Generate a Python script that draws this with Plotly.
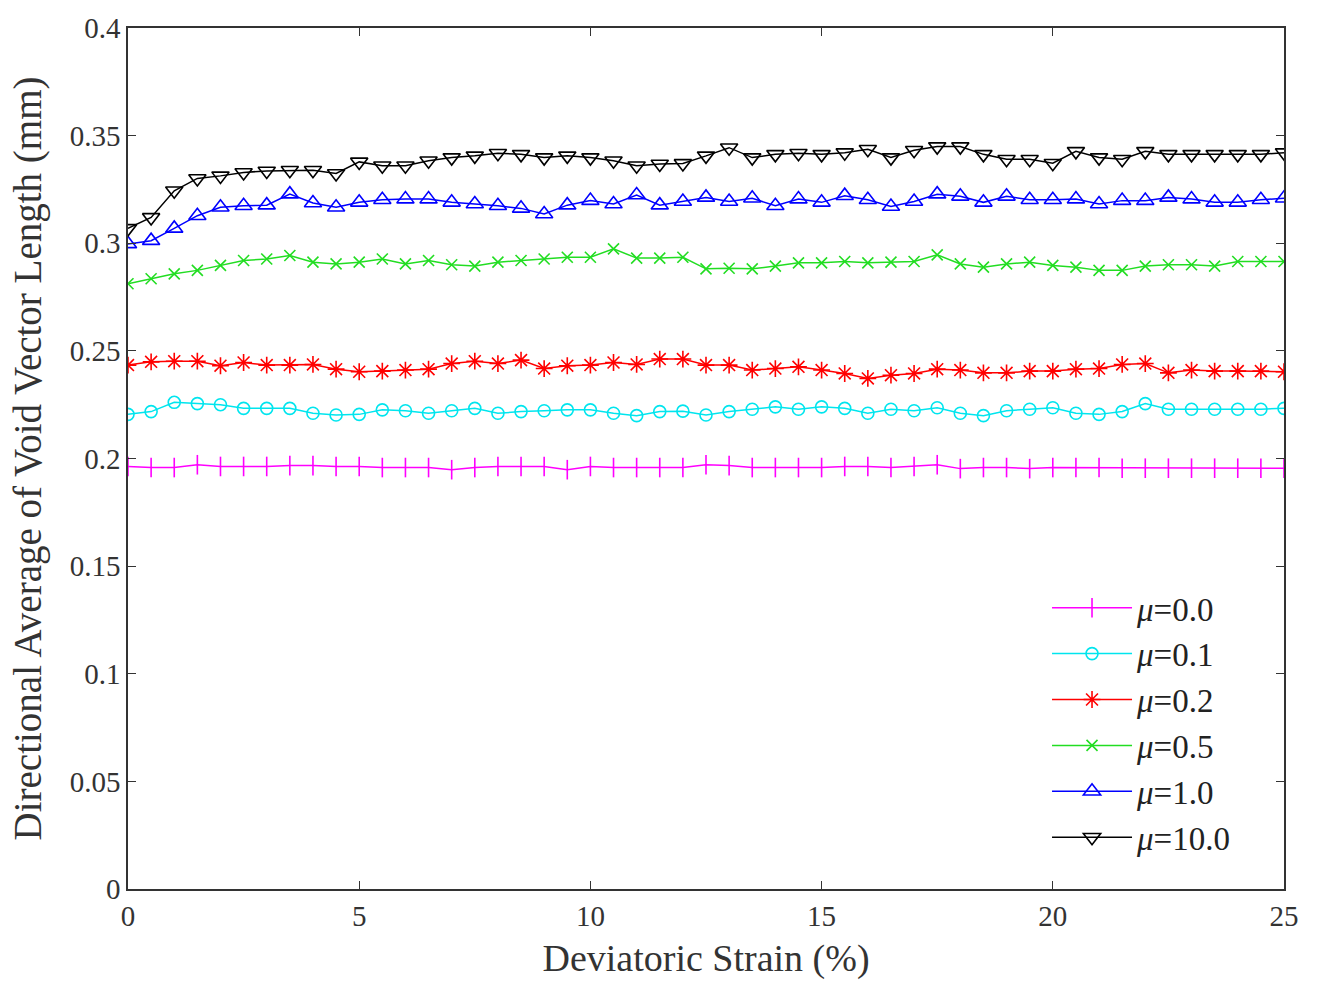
import plotly.graph_objects as go

# Deviatoric strain (%) sampled every 0.5 %
strain = [i * 0.5 for i in range(51)]

mu_00 = [0.1963, 0.1958, 0.1958, 0.1971, 0.1963, 0.1963, 0.1963, 0.1967, 0.1967, 0.1963,
         0.1963, 0.1958, 0.1958, 0.1958, 0.1948, 0.1958, 0.1963, 0.1963, 0.1963, 0.1948,
         0.1963, 0.1958, 0.1958, 0.1958, 0.1958, 0.1971, 0.1967, 0.1958, 0.1958, 0.1958,
         0.1958, 0.1963, 0.1963, 0.1958, 0.1963, 0.1971, 0.1953, 0.1958, 0.1958, 0.1953,
         0.1958, 0.1958, 0.1958, 0.1955, 0.1955, 0.1955, 0.1955, 0.1955, 0.1955, 0.1955,
         0.1955]

mu_01 = [0.2205, 0.2218, 0.2261, 0.2255, 0.2250, 0.2233, 0.2233, 0.2233, 0.2210, 0.2202,
         0.2205, 0.2226, 0.2222, 0.2210, 0.2222, 0.2233, 0.2210, 0.2218, 0.2222, 0.2226,
         0.2226, 0.2210, 0.2199, 0.2218, 0.2220, 0.2202, 0.2218, 0.2229, 0.2240, 0.2229,
         0.2240, 0.2233, 0.2210, 0.2229, 0.2222, 0.2236, 0.2210, 0.2199, 0.2222, 0.2229,
         0.2236, 0.2210, 0.2205, 0.2218, 0.2255, 0.2229, 0.2229, 0.2229, 0.2229, 0.2229,
         0.2233]

mu_02 = [0.2434, 0.2449, 0.2452, 0.2452, 0.2431, 0.2446, 0.2434, 0.2434, 0.2437, 0.2415,
         0.2403, 0.2406, 0.2411, 0.2415, 0.2441, 0.2452, 0.2441, 0.2457, 0.2418, 0.2431,
         0.2434, 0.2446, 0.2437, 0.2462, 0.2462, 0.2434, 0.2434, 0.2411, 0.2418, 0.2426,
         0.2411, 0.2395, 0.2372, 0.2387, 0.2395, 0.2415, 0.2411, 0.2398, 0.2398, 0.2406,
         0.2406, 0.2415, 0.2418, 0.2437, 0.2441, 0.2398, 0.2411, 0.2406, 0.2406, 0.2406,
         0.2403]

mu_05 = [0.2812, 0.2835, 0.2858, 0.2874, 0.2897, 0.2920, 0.2927, 0.2943, 0.2912, 0.2904,
         0.2912, 0.2927, 0.2904, 0.2920, 0.2900, 0.2894, 0.2912, 0.2920, 0.2927, 0.2935,
         0.2935, 0.2974, 0.2931, 0.2931, 0.2935, 0.2881, 0.2884, 0.2881, 0.2894, 0.2909,
         0.2909, 0.2915, 0.2909, 0.2912, 0.2915, 0.2946, 0.2904, 0.2889, 0.2904, 0.2912,
         0.2897, 0.2889, 0.2874, 0.2874, 0.2894, 0.2900, 0.2900, 0.2894, 0.2915, 0.2915,
         0.2915]

mu_10 = [0.2997, 0.3012, 0.3069, 0.3128, 0.3167, 0.3174, 0.3177, 0.3228, 0.3187, 0.3167,
         0.3190, 0.3202, 0.3205, 0.3205, 0.3190, 0.3182, 0.3174, 0.3162, 0.3136, 0.3177,
         0.3198, 0.3182, 0.3224, 0.3177, 0.3194, 0.3213, 0.3194, 0.3209, 0.3174, 0.3205,
         0.3190, 0.3221, 0.3202, 0.3171, 0.3194, 0.3228, 0.3218, 0.3190, 0.3218, 0.3202,
         0.3202, 0.3205, 0.3182, 0.3198, 0.3198, 0.3213, 0.3205, 0.3190, 0.3190, 0.3202,
         0.3209]

mu_100 = [0.3069, 0.3120, 0.3244, 0.3301, 0.3313, 0.3329, 0.3336, 0.3339, 0.3339, 0.3324,
          0.3378, 0.3360, 0.3360, 0.3383, 0.3398, 0.3406, 0.3418, 0.3413, 0.3398, 0.3406,
          0.3398, 0.3383, 0.3360, 0.3368, 0.3371, 0.3406, 0.3444, 0.3398, 0.3413, 0.3418,
          0.3413, 0.3421, 0.3437, 0.3398, 0.3432, 0.3449, 0.3449, 0.3413, 0.3390, 0.3390,
          0.3372, 0.3427, 0.3398, 0.3390, 0.3427, 0.3413, 0.3413, 0.3413, 0.3413, 0.3413,
          0.3421]

series_names = ["<i>μ</i>=0.0", "<i>μ</i>=0.1", "<i>μ</i>=0.2",
                "<i>μ</i>=0.5", "<i>μ</i>=1.0", "<i>μ</i>=10.0"]
series_values = [mu_00, mu_01, mu_02, mu_05, mu_10, mu_100]
series_colors = ["#ff00ff", "#00e5ee", "#ff0000", "#22dd22", "#0000ff", "#000000"]
series_symbols = ["line-ns-open", "circle-open", "asterisk-open",
                  "x-thin-open", "triangle-up-open", "triangle-down-open"]
series_sizes = [14, 12, 14, 11, 15, 15]

x_ticks = [0, 5, 10, 15, 20, 25]
y_ticks = [0, 0.05, 0.1, 0.15, 0.2, 0.25, 0.3, 0.35, 0.4]
y_tick_text = ["0", "0.05", "0.1", "0.15", "0.2", "0.25", "0.3", "0.35", "0.4"]

FONT = "Liberation Serif, Times New Roman, serif"

fig = go.Figure()
for name, vals, col, sym, sz in zip(series_names, series_values, series_colors,
                                    series_symbols, series_sizes):
    fig.add_trace(go.Scatter(
        x=strain, y=vals, name=name, mode="lines+markers",
        line=dict(color=col, width=1.5),
        marker=dict(symbol=sym, size=sz, color=col, line=dict(color=col, width=1.6)),
    ))

axis_common = dict(
    showline=True, linecolor="#333333", linewidth=1.5, mirror="ticks",
    ticks="inside", ticklen=8, tickwidth=1.2, tickcolor="#333333",
    showgrid=False, zeroline=False,
    tickfont=dict(family=FONT, size=29, color="#333333"),
)

fig.update_layout(
    width=1318, height=992,
    margin=dict(l=128, r=34, t=25, b=103),
    paper_bgcolor="white", plot_bgcolor="white",
    font=dict(family=FONT, color="#333333"),
    xaxis=dict(range=[0, 25], tickvals=x_ticks,
               title=dict(text="Deviatoric Strain (%)", font=dict(size=38), standoff=14),
               **axis_common),
    yaxis=dict(range=[0, 0.4], tickvals=y_ticks, ticktext=y_tick_text,
               title=dict(text="Directional Average of Void Vector Length (mm)",
                          font=dict(size=39), standoff=16),
               **axis_common),
    legend=dict(x=0.795, xanchor="left", y=0.027, yanchor="bottom",
                bgcolor="rgba(255,255,255,0)", borderwidth=0,
                font=dict(family=FONT, size=33, color="#222222"),
                itemwidth=80, tracegroupgap=0),
    showlegend=True,
)

fig.write_html("out.html")
